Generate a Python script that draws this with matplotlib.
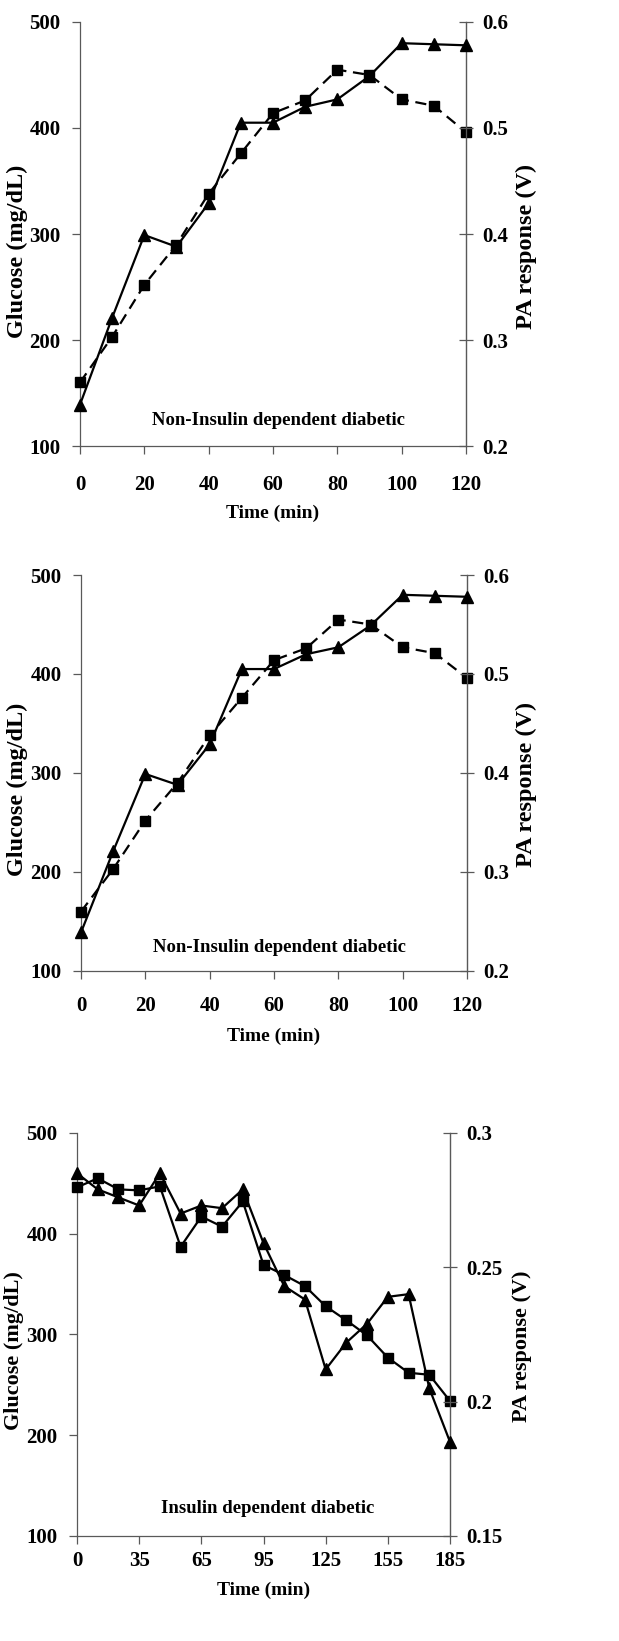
import numpy as np
import matplotlib.pyplot as plt
from matplotlib.ticker import FuncFormatter

plt.rcParams['font.family'] = ['Liberation Serif', 'DejaVu Serif']
plt.rcParams['font.weight'] = 'bold'

# Non-insulin dependent diabetic (top two panels show the same run)
t_nidd = [0, 10, 20, 30, 40, 50, 60, 70, 80, 90, 100, 110, 120]
glucose_nidd = [160, 203, 252, 290, 338, 376, 414, 426, 455, 450, 427, 421, 396]
pa_nidd = [0.239, 0.321, 0.399, 0.388, 0.429, 0.505, 0.505, 0.520, 0.527,
           0.549, 0.580, 0.579, 0.578]

# Insulin dependent diabetic (category axis, every 3rd label shown)
t_idd = [0, 15, 25, 35, 45, 55, 65, 75, 85, 95, 105, 115, 125, 135, 145,
         155, 165, 175, 185]
glucose_idd = [446, 455, 444, 443, 447, 387, 417, 407, 432, 369, 359, 348,
               328, 314, 299, 277, 262, 260, 234]
pa_idd = [0.285, 0.279, 0.276, 0.273, 0.285, 0.270, 0.273, 0.272, 0.279,
          0.259, 0.243, 0.238, 0.212, 0.222, 0.229, 0.239, 0.240, 0.205,
          0.185]

glucose_ticks = [100, 200, 300, 400, 500]
pa_ticks_nidd = [0.2, 0.3, 0.4, 0.5, 0.6]
pa_ticks_idd = [0.15, 0.2, 0.25, 0.3]

FS_TICK = 15
FS_XLAB = 14
SPINE = '0.35'


def style_axes(ax, ax2, xpad):
    ax.spines['top'].set_visible(False)
    ax2.spines['top'].set_visible(False)
    for s in ['left', 'bottom']:
        ax.spines[s].set_color(SPINE)
        ax.spines[s].set_linewidth(0.9)
    ax2.spines['right'].set_color(SPINE)
    ax2.spines['right'].set_linewidth(0.9)
    ax2.spines['left'].set_visible(False)
    ax2.spines['bottom'].set_visible(False)
    ax.tick_params(axis='y', direction='out', length=6, width=0.9,
                   color=SPINE, labelsize=FS_TICK, pad=8)
    ax.tick_params(axis='x', direction='out', length=6, width=0.9,
                   color=SPINE, labelsize=FS_TICK, pad=xpad)
    ax2.tick_params(axis='y', direction='inout', length=10, width=0.9,
                    color=SPINE, labelsize=FS_TICK, pad=7)
    ax2.yaxis.set_major_formatter(FuncFormatter(lambda v, p: '%g' % round(v, 3)))


def nidd_panel(rect, xpad, xlab_y, lab_x, lab2_x):
    ax = fig.add_axes(rect)
    ax2 = ax.twinx()
    ax.plot(t_nidd, glucose_nidd, color='black', lw=1.6, ls=(0, (5, 3)),
            marker='s', ms=6.5, clip_on=False, zorder=3)
    ax2.plot(t_nidd, pa_nidd, color='black', lw=1.6, ls='-',
             marker='^', ms=8, clip_on=False, zorder=3)
    ax.set_xlim(0, 120)
    ax.set_ylim(100, 500)
    ax2.set_ylim(0.2, 0.6)
    ax.set_xticks(np.arange(0, 121, 20))
    ax.set_yticks(glucose_ticks)
    ax2.set_yticks(pa_ticks_nidd)
    style_axes(ax, ax2, xpad)
    ax.set_xlabel('Time (min)', fontsize=FS_XLAB, fontweight='bold')
    ax.xaxis.set_label_coords(0.5, xlab_y)
    ax.set_ylabel('Glucose (mg/dL)', fontsize=17.5, fontweight='bold')
    ax.yaxis.set_label_coords(lab_x, 0.46)
    ax2.set_ylabel('PA response (V)', fontsize=17.5, fontweight='bold')
    ax2.yaxis.set_label_coords(lab2_x, 0.47)
    ax.text(0.515, 0.06, 'Non-Insulin dependent diabetic', transform=ax.transAxes,
            ha='center', va='center', fontsize=13.5, fontweight='bold')


fig = plt.figure(figsize=(6.19, 16.41), dpi=100)

nidd_panel([0.1292, 0.7282, 0.6236, 0.2584], 15, -0.139, -0.135, 1.128)
nidd_panel([0.1309, 0.4083, 0.6236, 0.2413], 12, -0.144, -0.137, 1.126)

# bottom panel
ax = fig.add_axes([0.1244, 0.0640, 0.6026, 0.2456])
ax2 = ax.twinx()
idx = np.arange(len(t_idd))
ax.plot(idx, glucose_idd, color='black', lw=1.6, marker='s', ms=6.5,
        clip_on=False, zorder=3)
ax2.plot(idx, pa_idd, color='black', lw=1.6, marker='^', ms=8,
         clip_on=False, zorder=3)
ax.set_xlim(0, len(t_idd) - 1)
ax.set_ylim(100, 500)
ax2.set_ylim(0.15, 0.3)
ax.set_xticks(idx[::3])
ax.set_xticklabels([str(t) for t in t_idd[::3]])
ax.set_yticks(glucose_ticks)
ax2.set_yticks(pa_ticks_idd)
style_axes(ax, ax2, 5)
ax.set_xlabel('Time (min)', fontsize=FS_XLAB, fontweight='bold')
ax.xaxis.set_label_coords(0.5, -0.114)
ax.set_ylabel('Glucose (mg/dL)', fontsize=16, fontweight='bold')
ax.yaxis.set_label_coords(-0.142, 0.46)
ax2.set_ylabel('PA response (V)', fontsize=16, fontweight='bold')
ax2.yaxis.set_label_coords(1.165, 0.47)
ax.text(0.51, 0.067, 'Insulin dependent diabetic', transform=ax.transAxes,
        ha='center', va='center', fontsize=13.5, fontweight='bold')

fig.savefig('out.png', dpi=100)
